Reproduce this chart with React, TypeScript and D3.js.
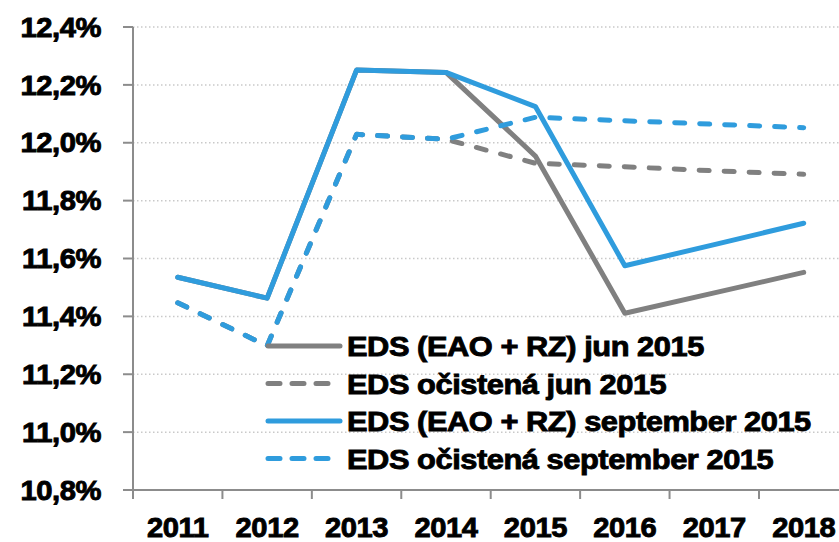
import * as d3 from "d3";

const years = ["2011", "2012", "2013", "2014", "2015", "2016", "2017", "2018"];

const edsJun = [11.535, 11.463, 12.251, 12.243, 11.954, 11.411, 11.481, 11.552];
const cleanJun = [11.447, 11.298, 12.029, 12.012, 11.929, 11.917, 11.903, 11.891];
const edsSep = [11.535, 11.463, 12.251, 12.243, 12.125, 11.575, 11.648, 11.722];
const cleanSep = [11.447, 11.298, 12.029, 12.012, 12.088, 12.076, 12.064, 12.052];

const yTicks = [10.8, 11.0, 11.2, 11.4, 11.6, 11.8, 12.0, 12.2, 12.4];

const series = [
  { name: "EDS (EAO + RZ) jun 2015", values: edsJun, color: "#808080", dashed: false },
  { name: "EDS očistená jun 2015", values: cleanJun, color: "#808080", dashed: true },
  { name: "EDS (EAO + RZ) september 2015", values: edsSep, color: "#2f9cdd", dashed: false },
  { name: "EDS očistená september 2015", values: cleanSep, color: "#2f9cdd", dashed: true },
];

const W = 839;
const H = 542;
const FONT = "'Liberation Sans', Arial, sans-serif";

// heavy, slightly widened label text
function Label({ x, y, sx, size, anchor, dy, children }: any) {
  return (
    <text
      transform={`translate(${x},${y}) scale(${sx},1)`}
      dy={dy}
      textAnchor={anchor}
      fontFamily={FONT}
      fontWeight="bold"
      fontSize={size}
      fill="#000"
      stroke="#000"
      strokeWidth={0.9}
      letterSpacing={-0.4}
    >
      {children}
    </text>
  );
}

export default function App() {
  const x = d3.scaleBand().domain(years).range([133, 848.4]);
  const y = d3.scaleLinear().domain([10.8, 12.4]).range([490, 27]);
  const cx = (yr: string) => (x(yr) ?? 0) + x.bandwidth() / 2;

  const line = d3
    .line<number>()
    .x((_, i) => cx(years[i]))
    .y((v) => y(v));

  const fmt = (v: number) => d3.format(".1f")(v).replace(".", ",") + "%";
  const boundaries = years.map((yr) => x(yr) ?? 0).concat([x.range()[1]]);

  const legendX0 = 268;
  const legendX1 = 340;
  const legendY = [346, 383.5, 421, 458.5];

  return (
    <svg width={W} height={H} style={{ position: "absolute", left: 0, top: 0, background: "#fff" }}>
      {/* grid */}
      {yTicks.slice(1).map((t) => (
        <line key={t} x1={133} x2={W} y1={y(t)} y2={y(t)} stroke="#c9c9c9" strokeWidth={1.5} strokeDasharray="1.5 2.5" />
      ))}

      {/* axes */}
      <line x1={133} x2={133} y1={y(12.4)} y2={y(10.8)} stroke="#8c8c8c" strokeWidth={2} />
      <line x1={133} x2={W} y1={y(10.8)} y2={y(10.8)} stroke="#8c8c8c" strokeWidth={2} />
      {yTicks.map((t) => (
        <g key={t}>
          <line x1={123} x2={133} y1={y(t)} y2={y(t)} stroke="#8c8c8c" strokeWidth={2} />
          <Label x={101} y={y(t)} sx={1.08} size={27} anchor="end" dy="0.36em">
            {fmt(t)}
          </Label>
        </g>
      ))}
      {boundaries.map((b, i) => (
        <line key={i} x1={b} x2={b} y1={490} y2={499} stroke="#8c8c8c" strokeWidth={2} />
      ))}
      {years.map((yr) => (
        <Label key={yr} x={cx(yr)} y={537} sx={1.04} size={28} anchor="middle">
          {yr}
        </Label>
      ))}

      {/* lines */}
      {series.map((s) => (
        <path
          key={s.name}
          d={line(s.values) ?? ""}
          fill="none"
          stroke={s.color}
          strokeWidth={5}
          strokeLinejoin="round"
          strokeLinecap="round"
          strokeDasharray={s.dashed ? "10 15" : undefined}
        />
      ))}

      {/* legend */}
      {series.map((s, i) => (
        <g key={s.name}>
          <line
            x1={legendX0}
            x2={legendX1}
            y1={legendY[i]}
            y2={legendY[i]}
            stroke={s.color}
            strokeWidth={5}
            strokeLinecap="round"
            strokeDasharray={s.dashed ? "12 12" : undefined}
          />
          <Label x={347} y={legendY[i]} sx={1.1} size={28} dy="0.36em">
            {s.name}
          </Label>
        </g>
      ))}
    </svg>
  );
}
